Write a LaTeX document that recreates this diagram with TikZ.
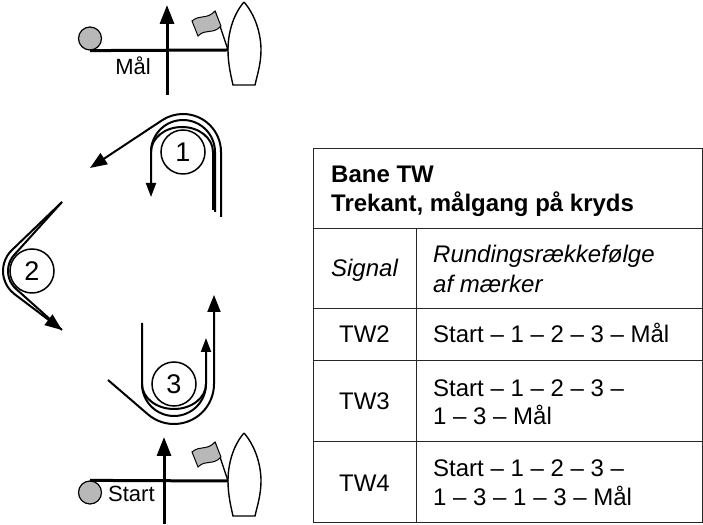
\documentclass[tikz,border=0pt]{standalone}
\usepackage{fontspec}
\setmainfont{Liberation Sans}
\usetikzlibrary{arrows.meta,calc}
\begin{document}
\begin{tikzpicture}[x=1pt,y=1pt]
        \tikzstyle{buoy}=[circle, draw, line width=1.5pt, inner sep=0pt, minimum size=44pt, font=\fontsize{27}{27}\selectfont]
        \tikzstyle{ball}=[circle, draw, line width=1.2pt, fill=black!28, inner sep=0pt, minimum size=23pt]
        \tikzstyle{route}=[line width=2pt]
        \tikzstyle{arr}=[-{Triangle[length=17pt,width=13pt]}]
        \tikzstyle{arrs}=[-{Triangle[length=14pt,width=10pt]}]
        \tikzstyle{startline}=[line width=3pt]
        \tikzstyle{bigarr}=[-{Triangle[length=19pt,width=14pt]}]
        \tikzstyle{hull}=[draw, line width=1.4pt, fill=white]
        \tikzstyle{flagcloth}=[draw, line width=1pt, fill=black!28]
        \tikzstyle{txt}=[inner sep=0pt, font=\fontsize{22}{26}\selectfont]
        \tikzstyle{cell}=[inner sep=0pt, font=\fontsize{24}{28}\selectfont]
        \tikzstyle{grid}=[line width=1pt, black!85]

        \useasboundingbox (0,0) rectangle (703,524);

        % marks
        \node[buoy] (m1) at (183,372) {1};
        \node[buoy] (m2) at (32,253) {2};
        \node[buoy] (m3) at (174,140) {3};

        % rounding of 1
        \coordinate (to2) at (90,356);
        \draw[route, arr] ($(m1)+(38,-65)$) -- ($(m1)+(38,0)$) arc[start angle=0, end angle=123.5, radius=38] -- (to2);
        \draw[route, arrs] ($(m1)+(32,-60)$) -- ($(m1)+(32,0)$) arc[start angle=0, end angle=180, radius=32] -- ($(m1)+(-32,-45)$);
        \draw[route] ($(m1)+(30,-58)$) -- ($(m1)+(30,0)$) arc[start angle=0, end angle=180, x radius=31, y radius=25];

        % rounding of 2
        \coordinate (from1) at (62,322);
        \coordinate (to3) at (62,194);
        \draw[route, arr] (from1) -- ($(m2)+(133.8:29)$) arc[start angle=133.8, end angle=232.9, radius=29] -- (to3);
        \draw[route] (from1) -- ($(m2)+(137.9:24)$) arc[start angle=137.9, end angle=228.2, radius=24] -- (to3);

        % rounding of 3
        \coordinate (from2) at (108,144);
        \draw[route, arr] (from2) -- ($(m3)+(229.3:40)$) arc[start angle=229.3, end angle=360, radius=40] -- ($(m3)+(40,89)$);
        \draw[route, arrs] ($(m3)+(-32,61)$) -- ($(m3)+(-32,0)$) arc[start angle=180, end angle=360, radius=32] -- ($(m3)+(32,46)$);
        \draw[route] ($(m3)+(-32,0)$) arc[start angle=180, end angle=360, x radius=32, y radius=25];

        % finish line
        \node[ball] (fin) at (90,485.5) {};
        \coordinate (fboat) at (228,474);
        \draw[startline] (fin.south) -- (fboat);
        \draw[startline, bigarr] (167,429) -- (167,519);
        \node[txt, anchor=base] (maal) at (133,449) {Mål};

        % start line
        \node[ball] (sta) at (90,31.5) {};
        \coordinate (sboat) at (228,43);
        \draw[startline] (sta.north) -- (sboat);
        \draw[startline, bigarr] (164,0) -- (164,87);
        \node[txt, anchor=base west] (start) at (108,23) {Start};

        % committee boats with flag
        \foreach \b in {fboat,sboat}{
            \begin{scope}[shift={(\b)}]
                \draw[hull] (16,48) .. controls (4,34) and (0,15) .. (0,0) .. controls (0,-14) and (3,-26) .. (5,-35) -- (27,-35) .. controls (29,-26) and (33,-14) .. (33,0) .. controls (33,15) and (28,34) .. (16,48);
                \draw[line width=1.3pt] (0,0) -- (-13,39);
                \draw[flagcloth] (-36,29) .. controls (-28,36) and (-21,30) .. (-13,39) -- (-7,24) .. controls (-15,15) and (-22,22) .. (-30,14) -- cycle;
            \end{scope}
        }

        % table
        \draw[grid] (313,375) rectangle (702,2);
        \draw[grid] (313,295) -- (702,295);
        \draw[grid] (313,215) -- (702,215);
        \draw[grid] (313,163) -- (702,163);
        \draw[grid] (313,82) -- (702,82);
        \draw[grid] (416,295) -- (416,2);

        \node[cell, anchor=base west, font=\fontsize{24}{28}\selectfont\bfseries] (bane) at (331,341) {Bane TW};
        \node[cell, anchor=base west, font=\fontsize{24}{28}\selectfont\bfseries] (trekant) at (331,312) {Trekant, målgang på kryds};
        \node[cell, anchor=base, font=\fontsize{24}{28}\selectfont\itshape] (sig) at (364.5,247) {Signal};
        \node[cell, anchor=base west, font=\fontsize{24}{28}\selectfont\itshape] (seqa) at (433,261) {Rundingsrækkefølge};
        \node[cell, anchor=base west, font=\fontsize{24}{28}\selectfont\itshape] (seqb) at (433,231) {af mærker};

        \node[cell, anchor=base] (tw2) at (364.5,181) {TW2};
        \node[cell, anchor=base west] (r2) at (433,181) {Start – 1 – 2 – 3 – Mål};
        \node[cell, anchor=base] (tw3) at (364.5,114) {TW3};
        \node[cell, anchor=base west] (r3a) at (433,127) {Start – 1 – 2 – 3 –};
        \node[cell, anchor=base west] (r3b) at (433,99) {1 – 3 – Mål};
        \node[cell, anchor=base] (tw4) at (364.5,32) {TW4};
        \node[cell, anchor=base west] (r4a) at (433,47) {Start – 1 – 2 – 3 –};
        \node[cell, anchor=base west] (r4b) at (433,19) {1 – 3 – 1 – 3 – Mål};
    \end{tikzpicture}
\end{document}
